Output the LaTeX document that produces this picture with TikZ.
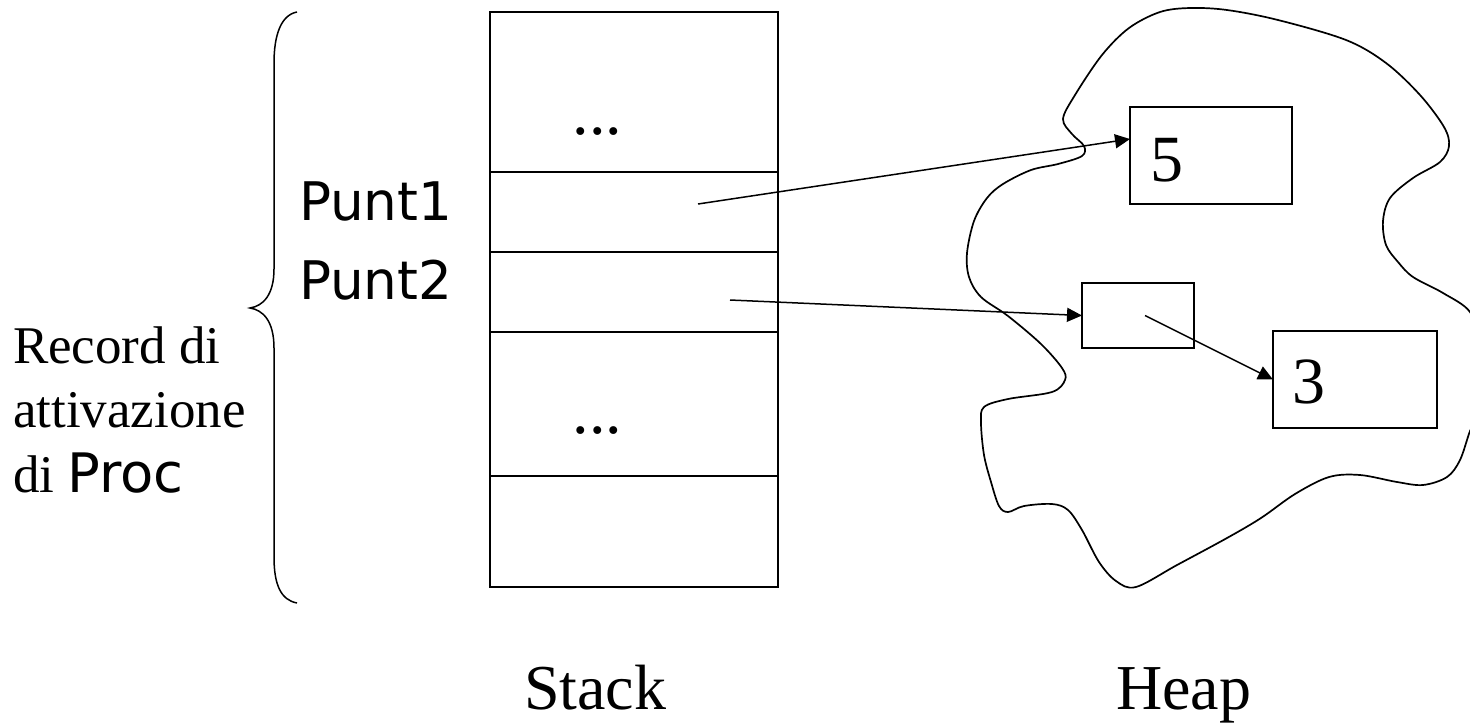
\documentclass[tikz,border=0pt]{standalone}
\usepackage{fontspec}
\setmainfont{Liberation Serif}
\newfontfamily\sansf{DejaVu Sans}
\usetikzlibrary{arrows.meta,calc}

\begin{document}
\begin{tikzpicture}[x=0.5pt,y=-0.5pt,
  cell/.style={draw,line width=1pt,minimum width=144pt,inner sep=0pt,outer sep=0pt},
  hbox/.style={draw,line width=1pt,inner sep=0pt,outer sep=0pt},
  ptr/.style={line width=0.75pt,-{Triangle[length=7.5pt,width=7pt]}},
  lbl/.style={anchor=base west,inner sep=0pt,outer sep=0pt},
  bigserif/.style={font=\fontsize{32pt}{38pt}\selectfont},
  numserif/.style={font=\fontsize{33pt}{40pt}\selectfont},
  recserif/.style={font=\fontsize{26.5pt}{32pt}\selectfont},
  codesans/.style={font=\sansf\fontsize{26.6pt}{32pt}\selectfont}]
\useasboundingbox (0,0) rectangle (1470,724);

% ---- stack of activation cells ----
\node[cell,minimum height=80pt]   (c1) at (633.5,92)    {};
\node[cell,minimum height=40pt]   (c2) at (633.5,212)   {};
\node[cell,minimum height=40pt]   (c3) at (633.5,292)   {};
\node[cell,minimum height=72pt]   (c4) at (633.5,404)   {};
\node[cell,minimum height=55.5pt] (c5) at (633.5,531.75) {};

\node[lbl,numserif] (dots1) at (572.5,134) {...};
\node[lbl,numserif] (dots2) at (572.5,433) {...};

\coordinate (p1) at (698,204);
\coordinate (p2) at (730,300);

% ---- labels on the left ----
\node[lbl,codesans] (punt1) at (299,220) {Punt1};
\node[lbl,codesans] (punt2) at (299,299) {Punt2};

\node[lbl,recserif] (rec1) at (13,363) {Record di};
\node[lbl,recserif] (rec2) at (13,427) {attivazione};
\node[lbl,recserif] (rec3) at (13,492) {di {\sansf\fontsize{27.2pt}{32pt}\selectfont Proc}};

% curly brace grouping the record
\draw[line width=0.75pt]
  (297,12) .. controls (281,15) and (274,35) .. (274,63)
  -- (274,269) .. controls (274,295) and (263,306) .. (250,308)
  .. controls (263,310) and (274,321) .. (274,348)
  -- (274,557) .. controls (274,585) and (281,600) .. (297,603);

% ---- heap ----
\begin{scope}
\clip (0,0) rectangle (1470,724);
\draw[line width=0.85pt] plot[smooth cycle,tension=0.55] coordinates {
  (1063,119) (1075,95) (1102,55) (1129,28) (1160,12) (1190,8) (1227,10)
  (1278,20) (1346,40) (1386,63) (1420,95) (1444,127) (1449,146) (1440,162)
  (1413,178) (1390,198) (1383,221) (1386,245) (1398,262) (1413,277)
  (1443,293) (1470,312) (1480,345) (1483,380) (1478,415) (1470,431)
  (1460,460) (1447,477) (1423,485) (1397,482) (1360,475) (1329,477)
  (1295,494) (1261,518) (1227,538) (1177,565) (1136,587) (1116,581)
  (1099,562) (1082,530) (1068,510) (1052,504) (1024,506) (1008,512)
  (999,506) (991,482) (984,455) (981,423) (984,407) (1008,399) (1052,392)
  (1065,380) (1062,368) (1041,344) (1008,316) (981,297) (969,277)
  (967,253) (974,221) (987,198) (1003,184) (1031,170) (1058,164)
  (1082,156) (1084,146) (1072,134)};
\end{scope}

\node[hbox,minimum width=81pt,minimum height=48.5pt] (box5) at (1211,155.5) {};
\node[hbox,minimum width=56pt,minimum height=32.5pt] (sbox) at (1138,315.5) {};
\node[hbox,minimum width=82pt,minimum height=48.5pt] (box3) at (1355,379.5) {};

\node[lbl,numserif] (v5) at (1150,181) {5};
\node[lbl,numserif] (v3) at (1292,403) {3};

% ---- pointers ----
\draw[ptr] (p1) -- ($(box5.north west)!0.33!(box5.south west)$);
\draw[ptr] (p2) -- (sbox.west);
\draw[ptr] ([xshift=3.5pt]sbox.center) -- (box3.west);

% ---- captions ----
\node[lbl,bigserif] (stack) at (524,709) {Stack};
\node[lbl,bigserif] (heap) at (1116,709) {Heap};
\end{tikzpicture}
\end{document}
